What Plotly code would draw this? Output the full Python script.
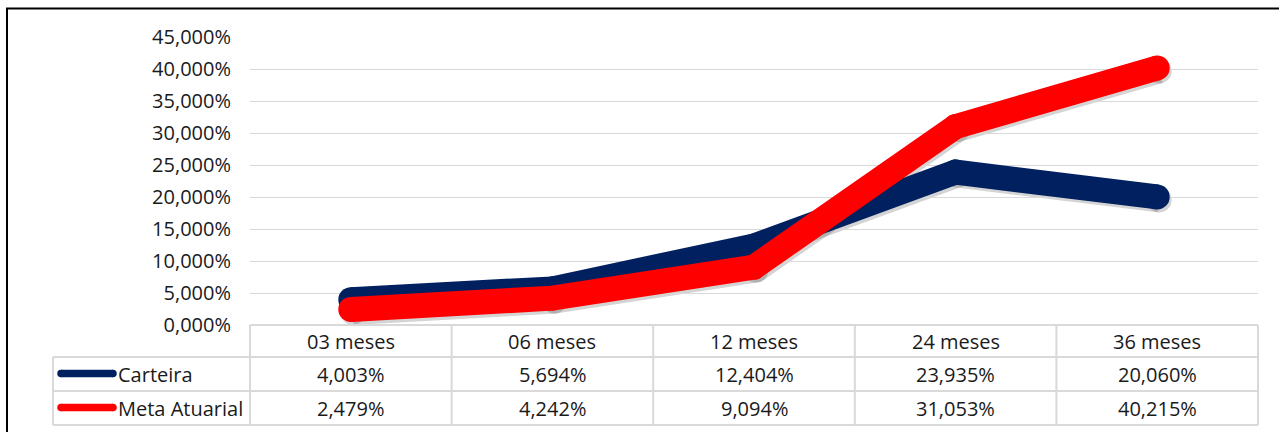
import plotly.graph_objects as go

# ---------------- data ----------------
categories = ["03 meses", "06 meses", "12 meses", "24 meses", "36 meses"]
carteira = [4.003, 5.694, 12.404, 23.935, 20.060]
meta_atuarial = [2.479, 4.242, 9.094, 31.053, 40.215]
series_names = ["Carteira", "Meta Atuarial"]
series_colors = ["#002060", "#FF0000"]
y_ticks = [0, 5, 10, 15, 20, 25, 30, 35, 40, 45]

W, H = 1279, 432


def px(x):
    return x / W


def py(y):
    return 1 - y / H


def fmt(v):
    return f"{v:.3f}".replace(".", ",") + "%"


TXT = "#1a1a1a"
GRID = "#d9d9d9"
FONT = "Open Sans"
FS = 20
LW = 25

# plot area in pixels
PL, PR, PT, PB = 250, 1258, 37.3, 325.3
SHX, SHY = 2, 3  # shadow offset px

xs = list(range(len(categories)))
series = [carteira, meta_atuarial]

fig = go.Figure()

# shadow traces (subplot xy, offset domain)
for vals in series:
    fig.add_trace(go.Scatter(
        x=xs, y=vals, mode="lines+markers", xaxis="x", yaxis="y",
        line=dict(color="rgba(60,60,60,0.22)", width=LW),
        marker=dict(size=LW, color="rgba(60,60,60,0.22)", line=dict(width=0)),
        hoverinfo="skip", showlegend=False,
    ))

# main traces (subplot x2y2)
for name, vals, col in zip(series_names, series, series_colors):
    fig.add_trace(go.Scatter(
        x=xs, y=vals, mode="lines+markers", xaxis="x2", yaxis="y2", name=name,
        line=dict(color=col, width=LW),
        marker=dict(size=LW, color=col, line=dict(width=0)),
        showlegend=False,
    ))

shapes = []
annotations = []

# outer frame
shapes.append(dict(type="rect", xref="paper", yref="paper",
                   x0=px(7), x1=px(1300), y0=py(460), y1=py(8.5),
                   line=dict(color="black", width=2), fillcolor="rgba(0,0,0,0)", layer="above"))

# data table
rows_y = [325, 357, 391, 425]
col_x = [PL + i * (PR - PL) / len(categories) for i in range(len(categories) + 1)]
TL = 53
bw = dict(color=GRID, width=2)
shapes.append(dict(type="line", xref="paper", yref="paper", x0=px(PL), x1=px(PR),
                   y0=py(rows_y[0]), y1=py(rows_y[0]), line=bw))
for yy in rows_y[1:]:
    shapes.append(dict(type="line", xref="paper", yref="paper", x0=px(TL), x1=px(PR),
                       y0=py(yy), y1=py(yy), line=bw))
for xx in col_x:
    shapes.append(dict(type="line", xref="paper", yref="paper", x0=px(xx), x1=px(xx),
                       y0=py(rows_y[0]), y1=py(rows_y[-1]), line=bw))
shapes.append(dict(type="line", xref="paper", yref="paper", x0=px(TL), x1=px(TL),
                   y0=py(rows_y[1]), y1=py(rows_y[-1]), line=bw))

# header texts
for i, c in enumerate(categories):
    annotations.append(dict(x=i, xref="x2", y=py((rows_y[0] + rows_y[1]) / 2), yref="paper",
                            text=c, showarrow=False, xanchor="center", yanchor="middle",
                            font=dict(family=FONT, size=FS, color=TXT)))
# value rows + legend keys
for r, (name, vals, col) in enumerate(zip(series_names, series, series_colors)):
    yc = (rows_y[r + 1] + rows_y[r + 2]) / 2
    for i, v in enumerate(vals):
        annotations.append(dict(x=i, xref="x2", y=py(yc), yref="paper", text=fmt(v),
                                showarrow=False, xanchor="center", yanchor="middle",
                                font=dict(family=FONT, size=FS, color=TXT)))
    annotations.append(dict(x=px(116), xref="paper", y=py(yc), yref="paper", text=name,
                            showarrow=False, xanchor="left", yanchor="middle",
                            font=dict(family=FONT, size=FS, color=TXT)))
    kx0, kx1, kw = 61, 113, 7.5
    ky = yc - 0.5
    shapes.append(dict(type="line", xref="paper", yref="paper", x0=px(kx0), x1=px(kx1),
                       y0=py(ky), y1=py(ky), line=dict(color=col, width=kw)))
    for cx in (kx0, kx1):
        shapes.append(dict(type="circle", xref="paper", yref="paper",
                           x0=px(cx - kw / 2), x1=px(cx + kw / 2),
                           y0=py(ky + kw / 2), y1=py(ky - kw / 2),
                           fillcolor=col, line=dict(width=0)))

fig.update_layout(
    template="none",
    width=W, height=H,
    margin=dict(l=0, r=0, t=0, b=0, pad=0, autoexpand=False),
    paper_bgcolor="white",
    plot_bgcolor="rgba(0,0,0,0)",
    separators=",.",
    showlegend=False,
    hovermode=False,
    # shadow axes
    xaxis=dict(domain=[px(PL + SHX), px(PR + SHX)], range=[-0.5, 4.5], visible=False,
               automargin=False, fixedrange=True),
    yaxis=dict(domain=[py(PB + SHY), py(PT + SHY)], range=[0, 45], visible=False,
               automargin=False, fixedrange=True),
    # main axes
    xaxis2=dict(domain=[px(PL), px(PR)], range=[-0.5, 4.5], showgrid=False, showticklabels=False,
                zeroline=False, showline=False, anchor="y2", automargin=False, fixedrange=True),
    yaxis2=dict(domain=[py(PB), py(PT)], range=[0, 45], tickmode="array", tickvals=y_ticks,
                ticktext=[fmt(t) for t in y_ticks],
                showgrid=True, gridcolor=GRID, gridwidth=1.5,
                zeroline=False, showline=False, ticks="", ticklabelstandoff=18, anchor="x2",
                automargin=False, fixedrange=True,
                tickfont=dict(family=FONT, size=FS, color=TXT)),
    shapes=shapes,
    annotations=annotations,
)

fig.write_html(
    "out.html",
    config={"displayModeBar": False, "staticPlot": True},
    post_script="document.body.style.margin='0';document.body.style.overflow='hidden';",
)
